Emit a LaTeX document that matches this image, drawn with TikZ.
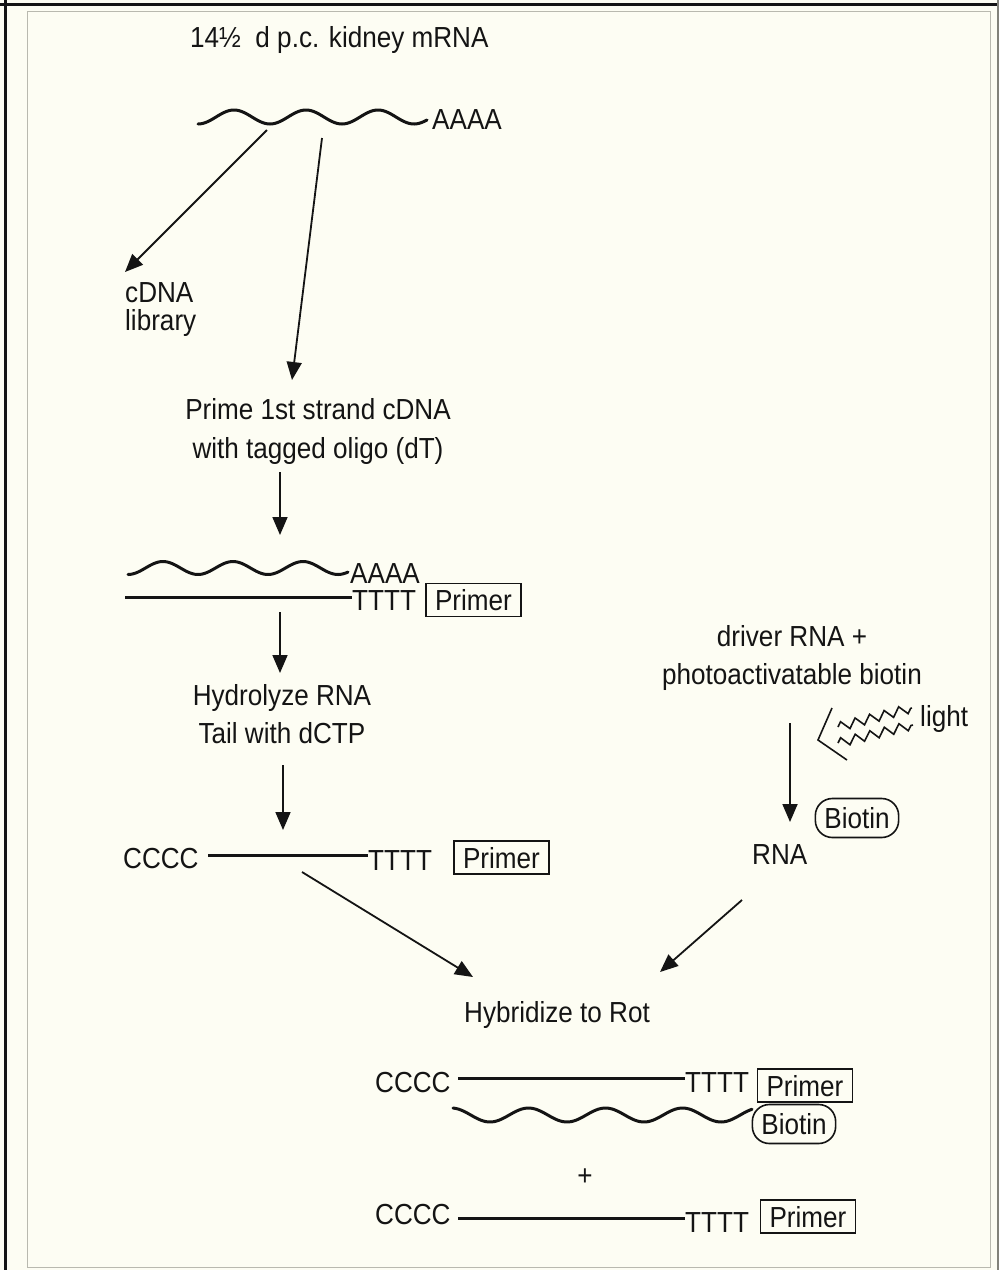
\documentclass[tikz,border=0pt]{standalone}
\usepackage{fontspec}
\setmainfont[FakeStretch=0.9]{Liberation Sans}
\usetikzlibrary{arrows.meta,decorations.pathmorphing}
\definecolor{paper}{RGB}{253,253,243}
\definecolor{ink}{RGB}{20,20,20}
\definecolor{edge}{RGB}{185,185,175}
\begin{document}
\begin{tikzpicture}[x=1pt,y=-1pt,
  lbl/.style={inner sep=0pt, text=ink, font=\fontsize{29}{39}\selectfont},
  primerbox/.style={lbl, draw=ink, line width=1.6pt, inner xsep=9pt, inner ysep=6pt, text height=21pt, text depth=0pt},
  biotinbox/.style={lbl, draw=ink, line width=1.6pt, rounded corners=17pt, inner xsep=9pt, inner ysep=9pt, text height=21pt, text depth=0pt},
  strand/.style={draw=ink, line width=3pt},
  rnawave/.style={draw=ink, line width=3pt, line cap=round},
  flow/.style={draw=ink, line width=1.8pt, -{Triangle[length=18pt,width=15pt]}},
  thin/.style={draw=ink, line width=1.6pt},
]
\useasboundingbox (0,0) rectangle (999,1270);
\fill[paper] (0,0) rectangle (999,1270);
% frame
\draw[ink, line width=3pt] (0,4) -- (999,4);
\draw[ink, line width=3pt] (5,0) -- (5,1270);
\draw[edge, line width=1pt] (27,11) -- (990,11) -- (990,1267) -- (27,1267) -- cycle;
\draw[edge!70!black, line width=2pt] (998,0) -- (998,1270);

% title and first mRNA
\node[lbl, anchor=base west] (title) at (190,47) {14½\enspace d p.c. kidney mRNA};
\draw[rnawave] plot[domain=0:229, samples=90, smooth] ({198+\x},{117+7*cos(\x*5)});
\node[lbl, anchor=base west] (aaaa1) at (432,129) {AAAA};

\node[lbl, anchor=north west, align=left, font=\fontsize{29}{28}\selectfont] (lib) at (125,282) {cDNA\\library};
\node[lbl, anchor=north, align=center] (prime) at (318,398) {Prime 1st strand cDNA\\with tagged oligo (dT)};

% hybrid mRNA/cDNA
\draw[rnawave] plot[domain=0:220, samples=90, smooth] ({128+\x},{568+6.5*cos(\x*5.143)});
\node[lbl, anchor=base west] (aaaa2) at (350,583) {AAAA};
\coordinate (s1a) at (125,597);
\coordinate (s1b) at (352,597);
\draw[strand] (s1a) -- (s1b);
\node[lbl, anchor=base west] (tttt1) at (352,610) {TTTT};
\node[primerbox] (primer1) at (473.5,600) {Primer};

\node[lbl, anchor=north, align=center, font=\fontsize{29}{38}\selectfont] (hydro) at (282,684) {Hydrolyze RNA\\Tail with dCTP};

% tailed cDNA
\node[lbl, anchor=base west] (cccc1) at (123,868) {CCCC};
\coordinate (s2a) at (208,855);
\coordinate (s2b) at (368,855);
\draw[strand] (s2a) -- (s2b);
\node[lbl, anchor=base west] (tttt2) at (368,870) {TTTT};
\node[primerbox] (primer2) at (501.5,857.5) {Primer};

% driver side
\node[lbl, anchor=north, align=center, font=\fontsize{29}{38}\selectfont] (driver) at (792,625) {driver RNA +\\photoactivatable biotin};
\draw[thin, line join=miter] (832,708) -- (818,740) -- (847,760);
\draw[thin, decorate, decoration={zigzag, segment length=15pt, amplitude=4.5pt}] (838,727) -- (912,708);
\draw[thin, decorate, decoration={zigzag, segment length=15pt, amplitude=4.5pt}] (838,743) -- (913,725);
\node[lbl, anchor=base west] (light) at (920,726) {light};
\node[lbl, anchor=base west] (rna) at (752,864) {RNA};
\node[biotinbox] (biotin1) at (857,818) {Biotin};

\node[lbl, anchor=base] (hyb) at (557,1022) {Hybridize to Rot};

% products
\node[lbl, anchor=base west] (cccc2) at (375,1092) {CCCC};
\coordinate (s3a) at (458,1078);
\coordinate (s3b) at (685,1078);
\draw[strand] (s3a) -- (s3b);
\node[lbl, anchor=base west] (tttt3) at (685,1092) {TTTT};
\node[primerbox] (primer3) at (805,1085.5) {Primer};
\draw[rnawave] plot[domain=453:752, samples=110, smooth] (\x,{1115+7*cos((\x-490)*4.675)});
\node[biotinbox, fill=paper] (biotin2) at (794,1124) {Biotin};
\node[lbl] (plus) at (585,1177) {+};
\node[lbl, anchor=base west] (cccc3) at (375,1224) {CCCC};
\coordinate (s4a) at (458,1218);
\coordinate (s4b) at (685,1218);
\draw[strand] (s4a) -- (s4b);
\node[lbl, anchor=base west] (tttt4) at (685,1232) {TTTT};
\node[primerbox] (primer4) at (808,1216.5) {Primer};

% arrows
\coordinate (a1s) at (267,130);  \coordinate (a1e) at (125,272);
\coordinate (a2s) at (322,138);  \coordinate (a2e) at (292,380);
\coordinate (a3s) at (280,472);  \coordinate (a3e) at (280,535);
\coordinate (a4s) at (280,612);  \coordinate (a4e) at (280,673);
\coordinate (a5s) at (283,765);  \coordinate (a5e) at (283,830);
\coordinate (a6s) at (302,872);  \coordinate (a6e) at (473,977);
\coordinate (a7s) at (742,900);  \coordinate (a7e) at (660,972);
\coordinate (a8s) at (790,723);  \coordinate (a8e) at (790,822);
\draw[flow] (a1s) -- (a1e);
\draw[flow] (a2s) -- (a2e);
\draw[flow] (a3s) -- (a3e);
\draw[flow] (a4s) -- (a4e);
\draw[flow] (a5s) -- (a5e);
\draw[flow] (a6s) -- (a6e);
\draw[flow] (a7s) -- (a7e);
\draw[flow] (a8s) -- (a8e);
\end{tikzpicture}
\end{document}
